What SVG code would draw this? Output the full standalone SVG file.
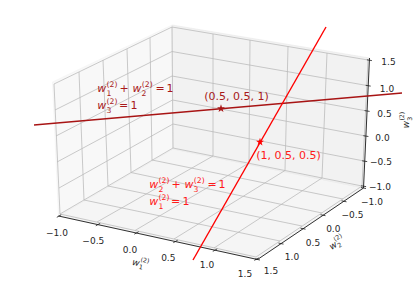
<svg xmlns="http://www.w3.org/2000/svg" xmlns:xlink="http://www.w3.org/1999/xlink" width="416" height="282" viewBox="0 0 416 282">
<defs>
<style>
text{font-family:"DejaVu Sans","Liberation Sans",sans-serif;}
.tl{font-size:9px;text-anchor:middle;fill:#262626;}
.al{font-size:9px;fill:#262626;}
.as{font-size:6.3px;}
.m{font-size:11px;}
.s{font-size:7.7px;}
.it{font-style:italic;}
.grid{stroke:#b8b8b8;stroke-width:0.75;fill:none;}
.axl{stroke:#1a1a1a;stroke-width:0.9;fill:none;}
.tick{stroke:#1a1a1a;stroke-width:0.8;}
.dr{fill:#a81a1a;}
.rd{fill:#ff1a1a;}
</style>
<path id="star" d="M0,-4.2 L0.97,-1.34 L4,-1.3 L1.58,0.51 L2.47,3.4 L0,1.66 L-2.47,3.4 L-1.58,0.51 L-4,-1.3 L-0.97,-1.34 Z"/>
</defs>
<rect width="416" height="282" fill="#ffffff"/>
<g id="panes">
<polygon points="58.5,216 52.5,82 172,25 173,149" fill="#f2f2f2" fill-opacity="0.5" stroke="#f2f2f2" stroke-opacity="0.5" stroke-width="1"/>
<polygon points="173,149 172,25 369.5,58 363.5,188" fill="#e6e6e6" fill-opacity="0.5" stroke="#e6e6e6" stroke-opacity="0.5" stroke-width="1"/>
<polygon points="58.5,216 173,149 363.5,188 257.5,259.5" fill="#ececec" fill-opacity="0.5" stroke="#ececec" stroke-opacity="0.5" stroke-width="1"/>
</g>
<g id="grid" class="grid">
<line x1="54" y1="84" x2="60" y2="214"/>
<line x1="79" y1="72" x2="84" y2="200"/>
<line x1="103" y1="60" x2="108" y2="186"/>
<line x1="127" y1="49" x2="131" y2="172.5"/>
<line x1="150" y1="38" x2="152" y2="160"/>
<line x1="172" y1="27" x2="173" y2="148"/>
<line x1="54" y1="84" x2="172" y2="27"/>
<line x1="55" y1="110" x2="172" y2="51.5"/>
<line x1="56" y1="136" x2="172" y2="76"/>
<line x1="57" y1="162" x2="172.5" y2="100"/>
<line x1="59" y1="188" x2="173" y2="124"/>
<line x1="60" y1="214" x2="173" y2="148"/>
<line x1="213" y1="34" x2="213" y2="156"/>
<line x1="250" y1="40" x2="249" y2="163"/>
<line x1="288" y1="46.5" x2="285" y2="170.5"/>
<line x1="327" y1="53" x2="322" y2="178"/>
<line x1="368" y1="60" x2="362" y2="186"/>
<line x1="172" y1="27" x2="368" y2="60"/>
<line x1="172" y1="51.5" x2="367" y2="85.5"/>
<line x1="172" y1="76" x2="366" y2="110.8"/>
<line x1="172.5" y1="100" x2="365" y2="135.9"/>
<line x1="173" y1="124" x2="364" y2="161"/>
<line x1="173" y1="148" x2="362" y2="186"/>
<line x1="97" y1="222" x2="213" y2="156"/>
<line x1="135" y1="230.5" x2="249" y2="163"/>
<line x1="174" y1="239" x2="285" y2="170.5"/>
<line x1="214" y1="248" x2="322" y2="178"/>
<line x1="256" y1="257" x2="362" y2="186"/>
<line x1="60" y1="214" x2="256" y2="257"/>
<line x1="84" y1="200" x2="280" y2="241"/>
<line x1="108" y1="186" x2="302" y2="226"/>
<line x1="131" y1="172.5" x2="322" y2="213"/>
<line x1="152" y1="160" x2="343" y2="199"/>
</g>
<g id="axes">
<line class="axl" x1="58.5" y1="216" x2="257.5" y2="259.5"/>
<line class="axl" x1="257.5" y1="259.5" x2="363.5" y2="188"/>
<line class="axl" x1="363.5" y1="188" x2="369.5" y2="58"/>
<g class="tick">
<line x1="56.8" y1="217.3" x2="61.2" y2="214.8"/>
<line x1="95.8" y1="225.8" x2="100.2" y2="223.3"/>
<line x1="134.3" y1="234.2" x2="138.7" y2="231.7"/>
<line x1="173.3" y1="242.7" x2="177.7" y2="240.2"/>
<line x1="212.8" y1="251.4" x2="217.2" y2="248.9"/>
<line x1="254.3" y1="260.4" x2="258.7" y2="257.9"/>
<line x1="255" y1="259" x2="260" y2="260"/>
<line x1="278.5" y1="243.1" x2="283.5" y2="244.1"/>
<line x1="300.5" y1="228.2" x2="305.5" y2="229.2"/>
<line x1="320.5" y1="214.7" x2="325.5" y2="215.7"/>
<line x1="341.5" y1="200.8" x2="346.5" y2="201.8"/>
<line x1="361" y1="187.5" x2="366" y2="188.5"/>
<line x1="361.1" y1="185.8" x2="366.1" y2="186.6"/>
<line x1="362.2" y1="160.8" x2="367.2" y2="161.6"/>
<line x1="363.4" y1="135.7" x2="368.4" y2="136.5"/>
<line x1="364.6" y1="110.6" x2="369.6" y2="111.4"/>
<line x1="365.7" y1="85.3" x2="370.7" y2="86.1"/>
<line x1="366.9" y1="59.8" x2="371.9" y2="60.6"/>
</g>
<g id="xticklabels">
<text class="tl" x="57" y="236">−1.0</text>
<text class="tl" x="93.3" y="244.3">−0.5</text>
<text class="tl" x="130" y="252.6">0.0</text>
<text class="tl" x="168.3" y="261">0.5</text>
<text class="tl" x="207" y="268.3">1.0</text>
<text class="tl" x="245" y="277">1.5</text>
</g>
<g id="yticklabels">
<text class="tl" x="372" y="205.3">−1.0</text>
<text class="tl" x="352.5" y="218">−0.5</text>
<text class="tl" x="333.3" y="232.3">0.0</text>
<text class="tl" x="313" y="245.6">0.5</text>
<text class="tl" x="292" y="259.6">1.0</text>
<text class="tl" x="271" y="274.3">1.5</text>
</g>
<g id="zticklabels">
<text class="tl" x="380" y="189.8">−1.0</text>
<text class="tl" x="381" y="165.3">−0.5</text>
<text class="tl" x="382.5" y="140.8">0.0</text>
<text class="tl" x="384.5" y="116.8">0.5</text>
<text class="tl" x="387" y="91.8">1.0</text>
<text class="tl" x="388.5" y="65.3">1.5</text>
</g>
<g id="xlabel" transform="translate(140.5,263) rotate(12)">
<text class="al"><tspan class="it" x="-8.2" y="3.5">w</tspan><tspan class="as" x="-0.6" y="-1.4">(2)</tspan><tspan class="as" x="-0.8" y="6">1</tspan></text>
</g>
<g id="ylabel" transform="translate(336.5,242.5) rotate(-34)">
<text class="al"><tspan class="it" x="-8.2" y="3.5">w</tspan><tspan class="as" x="-0.6" y="-1.4">(2)</tspan><tspan class="as" x="-0.8" y="6">2</tspan></text>
</g>
<g id="zlabel" transform="translate(405.5,120) rotate(-90)">
<text class="al"><tspan class="it" x="-8.2" y="3.5">w</tspan><tspan class="as" x="-0.6" y="-1.4">(2)</tspan><tspan class="as" x="-0.8" y="6">3</tspan></text>
</g>
</g>
<g id="connectors">
<line id="line-darkred" x1="34" y1="125" x2="402" y2="93" stroke="#a81414" stroke-width="1.4"/>
<line id="line-red" x1="326" y1="27" x2="193" y2="260" stroke="#ff0000" stroke-width="1.4"/>
</g>
<g id="point-050510">
<use xlink:href="#star" x="221" y="108.5" fill="#a81414"/>
<text class="m dr" x="204.2" y="100">(0.5, 0.5, 1)</text>
</g>
<g id="point-10505">
<use xlink:href="#star" x="260" y="142" fill="#ff0000"/>
<text class="m rd" x="256.2" y="158.5">(1, 0.5, 0.5)</text>
</g>
<g id="label-darkred" class="dr">
<text class="m"><tspan class="it" x="97.3" y="92">w</tspan><tspan class="s" x="106.6" y="86.7">(2)</tspan><tspan class="s" x="106.4" y="95.9">1</tspan><tspan x="119.6" y="92">+</tspan><tspan class="it" x="132.5" y="92">w</tspan><tspan class="s" x="141.8" y="86.7">(2)</tspan><tspan class="s" x="141.6" y="95.9">2</tspan><tspan x="155.6" y="92">=</tspan><tspan x="166.4" y="92">1</tspan></text>
<text class="m"><tspan class="it" x="97.3" y="108.8">w</tspan><tspan class="s" x="106.6" y="103.5">(2)</tspan><tspan class="s" x="106.4" y="112.7">3</tspan><tspan x="119" y="108.8">=</tspan><tspan x="130.5" y="108.8">1</tspan></text>
</g>
<g id="label-red" class="rd">
<text class="m"><tspan class="it" x="149.3" y="188">w</tspan><tspan class="s" x="158.6" y="182.7">(2)</tspan><tspan class="s" x="158.4" y="191.9">2</tspan><tspan x="171.6" y="188">+</tspan><tspan class="it" x="184.5" y="188">w</tspan><tspan class="s" x="193.8" y="182.7">(2)</tspan><tspan class="s" x="193.6" y="191.9">3</tspan><tspan x="207.6" y="188">=</tspan><tspan x="218.4" y="188">1</tspan></text>
<text class="m"><tspan class="it" x="149.3" y="204.8">w</tspan><tspan class="s" x="158.6" y="199.5">(2)</tspan><tspan class="s" x="158.4" y="208.7">1</tspan><tspan x="171" y="204.8">=</tspan><tspan x="182.5" y="204.8">1</tspan></text>
</g>
</svg>
